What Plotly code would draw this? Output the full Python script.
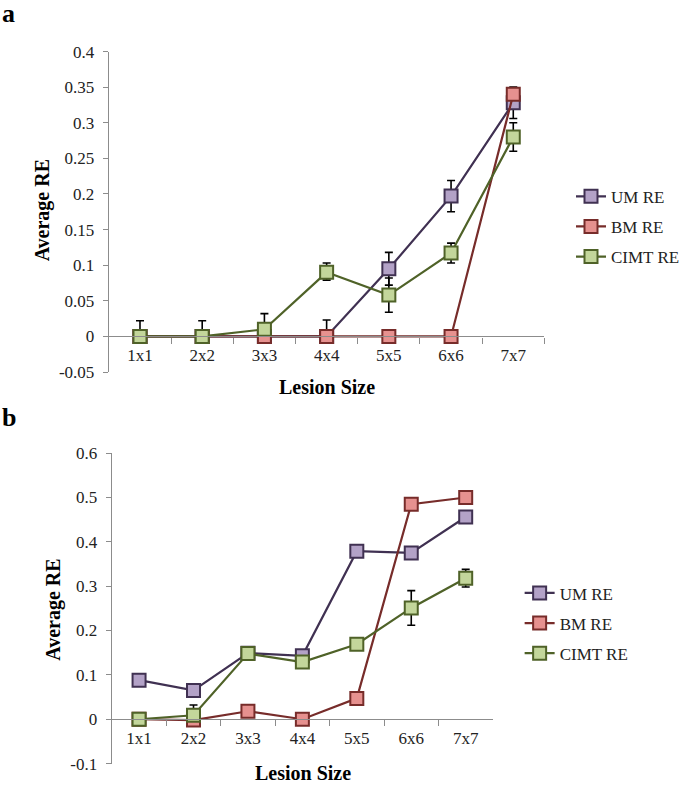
import plotly.graph_objects as go

categories = ["1x1", "2x2", "3x3", "4x4", "5x5", "6x6", "7x7"]
series_names = ["UM RE", "BM RE", "CIMT RE"]

# Panel a
a_um = [0, 0, 0, 0, 0.095, 0.197, 0.328]
a_bm = [0, 0, 0, 0, 0, 0, 0.34]
a_cimt = [0, 0, 0.01, 0.09, 0.058, 0.117, 0.28]
a_um_err_plus = [0.022, 0.022, 0, 0.023, 0.023, 0.022, 0.022]
a_um_err_minus = [0, 0, 0, 0, 0.023, 0.022, 0.022]
a_cimt_err_plus = [0, 0, 0.022, 0.013, 0.024, 0.014, 0.02]
a_cimt_err_minus = [0, 0, 0, 0.011, 0.024, 0.014, 0.02]
a_yticks = [-0.05, 0, 0.05, 0.1, 0.15, 0.2, 0.25, 0.3, 0.35, 0.4]
a_yticktext = ["-0.05", "0", "0.05", "0.1", "0.15", "0.2", "0.25", "0.3", "0.35", "0.4"]

# Panel b
b_um = [0.088, 0.065, 0.149, 0.143, 0.379, 0.375, 0.456]
b_bm = [0, -0.002, 0.018, 0, 0.047, 0.485, 0.5]
b_cimt = [0, 0.009, 0.148, 0.129, 0.169, 0.251, 0.318]
b_cimt_err_plus = [0, 0.023, 0, 0, 0, 0.039, 0.02]
b_cimt_err_minus = [0, 0, 0, 0, 0, 0.039, 0.02]
b_yticks = [-0.1, 0, 0.1, 0.2, 0.3, 0.4, 0.5, 0.6]
b_yticktext = ["-0.1", "0", "0.1", "0.2", "0.3", "0.4", "0.5", "0.6"]

line_colors = ["#403152", "#772c2a", "#4f6228"]
fill_colors = ["#b3a2c7", "#e6918f", "#c3d69b"]

W, H = 685, 805
FONT = "Liberation Serif"

fig = go.Figure()


def add_series(values, idx, xa, ya, legend, err_plus=None, err_minus=None):
    kw = {}
    if err_plus is not None:
        kw["error_y"] = dict(type="data", symmetric=False, array=err_plus,
                             arrayminus=err_minus, color="black",
                             thickness=1.6, width=4)
    fig.add_trace(go.Scatter(
        x=categories, y=values, name=series_names[idx], mode="lines+markers",
        xaxis=xa, yaxis=ya, legend=legend, legendgroup=f"{legend}{idx}",
        line=dict(color=line_colors[idx], width=2.2),
        marker=dict(symbol="square", size=13, color=fill_colors[idx],
                    line=dict(color=line_colors[idx], width=2)),
        **kw))


add_series(a_um, 0, "x", "y", "legend", a_um_err_plus, a_um_err_minus)
add_series(a_bm, 1, "x", "y", "legend")
add_series(a_cimt, 2, "x", "y", "legend", a_cimt_err_plus, a_cimt_err_minus)
add_series(b_um, 0, "x2", "y2", "legend2")
add_series(b_bm, 1, "x2", "y2", "legend2")
add_series(b_cimt, 2, "x2", "y2", "legend2", b_cimt_err_plus, b_cimt_err_minus)


def px_x(p):
    return p / W


def px_y(p):
    # calibrated: on-screen pixel -> paper coordinate
    return 1 - ((p - 8.5) / 0.975) / H


axis_gray = "#8c8c8c"
tickfont = dict(family=FONT, size=17, color="#222")

a_dom_x = [px_x(110), px_x(550)]
a_dom_y = [px_y(371), px_y(51)]
a_range = [-0.05, 0.4]
a_zero = a_dom_y[0] + (0 - a_range[0]) / (a_range[1] - a_range[0]) * (a_dom_y[1] - a_dom_y[0])

b_dom_x = [px_x(113), px_x(498)]
b_dom_y = [px_y(762), px_y(452)]
b_range = [-0.1, 0.6]
b_zero = b_dom_y[0] + (0 - b_range[0]) / (b_range[1] - b_range[0]) * (b_dom_y[1] - b_dom_y[0])

common_x = dict(type="category", range=[-0.5, 6.5], showline=True, linecolor=axis_gray,
                linewidth=1.3, ticks="outside", ticklen=6, tickcolor=axis_gray,
                tickson="boundaries", showgrid=False, zeroline=False, tickfont=tickfont,
                anchor="free", fixedrange=True, ticklabelstandoff=3)
common_y = dict(showline=True, linecolor=axis_gray, linewidth=1.3, ticks="outside",
                ticklen=5, tickcolor=axis_gray, showgrid=False, zeroline=False,
                tickfont=tickfont, tickmode="array", ticklabelstandoff=5)

legfont = dict(family=FONT, size=17, color="#222")
fig.update_layout(
    width=W, height=H, margin=dict(l=0, r=0, t=0, b=0),
    paper_bgcolor="white", plot_bgcolor="white",
    font=dict(family=FONT, color="#222"),
    xaxis=dict(domain=a_dom_x, position=a_zero, **common_x),
    yaxis=dict(domain=a_dom_y, range=a_range, anchor="x", tickvals=a_yticks,
               ticktext=a_yticktext, **common_y),
    xaxis2=dict(domain=b_dom_x, position=b_zero, **common_x),
    yaxis2=dict(domain=b_dom_y, range=b_range, anchor="x2", tickvals=b_yticks,
                ticktext=b_yticktext, **common_y),
    legend=dict(x=px_x(577), y=px_y(226), xanchor="left", yanchor="middle",
                font=legfont, bgcolor="rgba(0,0,0,0)", traceorder="grouped",
                tracegroupgap=5, itemwidth=30),
    legend2=dict(x=px_x(525), y=px_y(622), xanchor="left", yanchor="middle",
                 font=legfont, bgcolor="rgba(0,0,0,0)", traceorder="grouped",
                 tracegroupgap=5, itemwidth=30),
    showlegend=True,
)

annots = [
    dict(text="<b>a</b>", x=px_x(0), y=px_y(-3), xanchor="left", yanchor="top",
         font=dict(family=FONT, size=26, color="black")),
    dict(text="<b>b</b>", x=px_x(0), y=px_y(400), xanchor="left", yanchor="top",
         font=dict(family=FONT, size=26, color="black")),
    dict(text="<b>Lesion Size</b>", x=px_x(330), y=px_y(386), xanchor="center", yanchor="middle",
         font=dict(family=FONT, size=20, color="black")),
    dict(text="<b>Average RE</b>", x=px_x(43), y=px_y(210), xanchor="center", yanchor="middle",
         textangle=-90, font=dict(family=FONT, size=20, color="black")),
    dict(text="<b>Lesion Size</b>", x=px_x(306), y=px_y(771), xanchor="center", yanchor="middle",
         font=dict(family=FONT, size=20, color="black")),
    dict(text="<b>Average RE</b>", x=px_x(54), y=px_y(608), xanchor="center", yanchor="middle",
         textangle=-90, font=dict(family=FONT, size=20, color="black")),
]
for a in annots:
    a.update(xref="paper", yref="paper", showarrow=False)
fig.update_layout(annotations=annots)

fig.write_html("out.html", config={"displayModeBar": False},
               post_script="document.body.style.margin='0';document.body.style.overflow='hidden';")
